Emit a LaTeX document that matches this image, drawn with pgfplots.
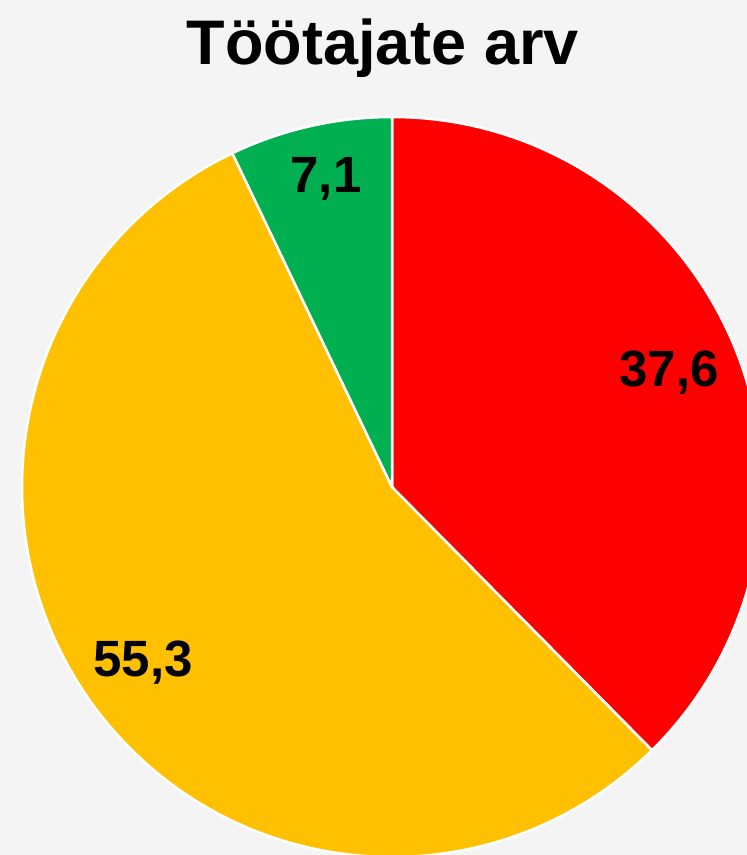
\documentclass[border=0pt]{standalone}
\usepackage{pgfplots}
\pgfplotsset{compat=1.18}
\usepackage{fontspec}
\setmainfont{Liberation Sans}
\definecolor{bg}{HTML}{F4F4F4}
\definecolor{pred}{HTML}{FF0000}
\definecolor{pyellow}{HTML}{FFC000}
\definecolor{pgreen}{HTML}{00B050}
% slice values (percent)
\def\va{37.6}
\def\vb{55.3}
\def\vc{7.1}
\begin{document}
\begin{tikzpicture}
\begin{axis}[
  x=1pt, y=1pt,
  xmin=0, xmax=747, ymin=0, ymax=855,
  hide axis,
  clip=true,
  axis background/.style={fill=bg},
]
\pgfmathsetmacro\ea{90-\va*3.6}
\pgfmathsetmacro\eb{\ea-\vb*3.6}
\pgfmathsetmacro\ec{\eb-\vc*3.6}
\fill[bg] (axis cs:0,0) rectangle (axis cs:747,855);
\filldraw[fill=pred,draw=white,line width=2.5pt,line join=round] (axis cs:392,368) -- ++(90:370pt) arc[start angle=90, end angle=\ea, radius=370pt] -- cycle;
\filldraw[fill=pyellow,draw=white,line width=2.5pt,line join=round] (axis cs:392,368) -- ++(\ea:370pt) arc[start angle=\ea, end angle=\eb, radius=370pt] -- cycle;
\filldraw[fill=pgreen,draw=white,line width=2.5pt,line join=round] (axis cs:392,368) -- ++(\eb:370pt) arc[start angle=\eb, end angle=\ec, radius=370pt] -- cycle;
\node[anchor=base,font=\bfseries\fontsize{51}{60}\selectfont] at (axis cs:669,468) {37,6};
\node[anchor=base,font=\bfseries\fontsize{51}{60}\selectfont] at (axis cs:143,178) {55,3};
\node[anchor=base,font=\bfseries\fontsize{51}{60}\selectfont] at (axis cs:326,662) {7,1};
\node[anchor=base,font=\bfseries\fontsize{63}{75}\selectfont] at (axis cs:383,790) {Töötajate arv};
\end{axis}
\end{tikzpicture}
\end{document}
